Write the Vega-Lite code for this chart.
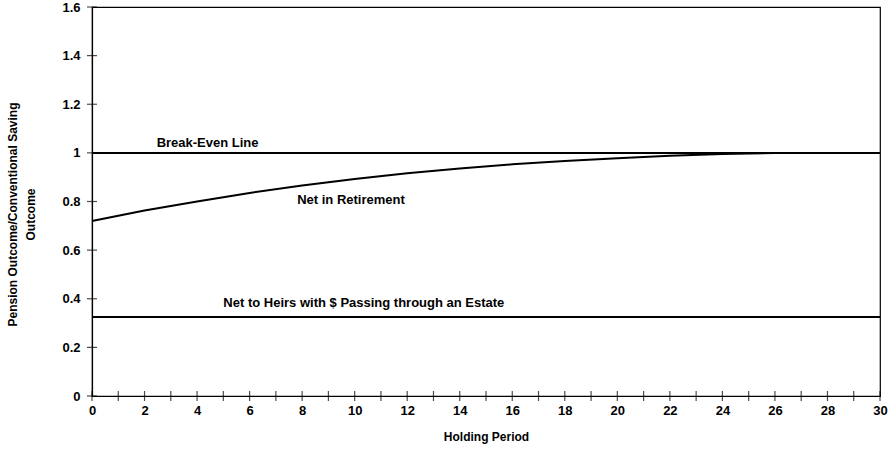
{
  "$schema": "https://vega.github.io/schema/vega-lite/v6.json",
  "width": 788,
  "height": 389,
  "autosize": "none",
  "padding": {"left": 92, "top": 7, "right": 12, "bottom": 53},
  "background": "white",
  "config": {
    "font": "Liberation Sans",
    "view": {"stroke": "black", "strokeWidth": 1.2},
    "axis": {"grid": false, "domainColor": "black", "domainWidth": 1.2, "labelColor": "black", "titleColor": "black", "labelFont": "Liberation Sans", "titleFont": "Liberation Sans", "labelFontWeight": "bold", "titleFontWeight": "bold", "labelFontSize": 13, "titleFontSize": 12}
  },
  "datasets": {
    "series": [
      {"period": 0, "value": 0.72, "series": "Net in Retirement"},
      {"period": 2, "value": 0.763, "series": "Net in Retirement"},
      {"period": 4, "value": 0.8, "series": "Net in Retirement"},
      {"period": 6, "value": 0.835, "series": "Net in Retirement"},
      {"period": 8, "value": 0.866, "series": "Net in Retirement"},
      {"period": 10, "value": 0.893, "series": "Net in Retirement"},
      {"period": 12, "value": 0.916, "series": "Net in Retirement"},
      {"period": 14, "value": 0.936, "series": "Net in Retirement"},
      {"period": 16, "value": 0.953, "series": "Net in Retirement"},
      {"period": 18, "value": 0.967, "series": "Net in Retirement"},
      {"period": 20, "value": 0.978, "series": "Net in Retirement"},
      {"period": 22, "value": 0.988, "series": "Net in Retirement"},
      {"period": 24, "value": 0.995, "series": "Net in Retirement"},
      {"period": 26, "value": 0.999, "series": "Net in Retirement"},
      {"period": 28, "value": 1.0, "series": "Net in Retirement"},
      {"period": 30, "value": 1.0, "series": "Net in Retirement"},
      {"period": 0, "value": 1.0, "series": "Break-Even Line"},
      {"period": 30, "value": 1.0, "series": "Break-Even Line"},
      {"period": 0, "value": 0.325, "series": "Net to Heirs"},
      {"period": 30, "value": 0.325, "series": "Net to Heirs"}
    ],
    "labels": [
      {"period": 4.4, "value": 1.04, "text": "Break-Even Line"},
      {"period": 9.86, "value": 0.807, "text": "Net in Retirement"},
      {"period": 10.35, "value": 0.383, "text": "Net to Heirs with $ Passing through an Estate"}
    ],
    "xticks": [
      {"t": 0}, {"t": 1}, {"t": 2}, {"t": 3}, {"t": 4}, {"t": 5}, {"t": 6}, {"t": 7}, {"t": 8}, {"t": 9},
      {"t": 10}, {"t": 11}, {"t": 12}, {"t": 13}, {"t": 14}, {"t": 15}, {"t": 16}, {"t": 17}, {"t": 18}, {"t": 19},
      {"t": 20}, {"t": 21}, {"t": 22}, {"t": 23}, {"t": 24}, {"t": 25}, {"t": 26}, {"t": 27}, {"t": 28}, {"t": 29}, {"t": 30}
    ],
    "yticks": [
      {"t": 0}, {"t": 0.2}, {"t": 0.4}, {"t": 0.6}, {"t": 0.8}, {"t": 1.0}, {"t": 1.2}, {"t": 1.4}, {"t": 1.6}
    ]
  },
  "layer": [
    {
      "data": {"name": "series"},
      "mark": {"type": "line", "color": "black", "strokeWidth": 2},
      "encoding": {
        "x": {"field": "period", "type": "quantitative", "scale": {"domain": [0, 30], "nice": false},
          "axis": {"title": "Holding Period", "values": [0, 2, 4, 6, 8, 10, 12, 14, 16, 18, 20, 22, 24, 26, 28, 30], "ticks": false, "labelPadding": 8, "titlePadding": 14, "labelFlush": false}},
        "y": {"field": "value", "type": "quantitative", "scale": {"domain": [0, 1.6], "nice": false},
          "axis": {"title": ["Pension Outcome/Conventional Saving", "Outcome"], "values": [0, 0.2, 0.4, 0.6, 0.8, 1, 1.2, 1.4, 1.6], "format": "~g", "ticks": false, "labelPadding": 12, "titlePadding": 24, "titleLineHeight": 18, "titleY": 207}},
        "detail": {"field": "series"}
      }
    },
    {
      "data": {"name": "xticks"},
      "mark": {"type": "tick", "color": "black", "orient": "vertical", "size": 10, "thickness": 1.2},
      "encoding": {
        "x": {"field": "t", "type": "quantitative"},
        "y": {"datum": 0}
      }
    },
    {
      "data": {"name": "yticks"},
      "mark": {"type": "tick", "color": "black", "orient": "horizontal", "size": 10, "thickness": 1.2},
      "encoding": {
        "y": {"field": "t", "type": "quantitative"},
        "x": {"datum": 0}
      }
    },
    {
      "data": {"name": "labels"},
      "mark": {"type": "text", "color": "black", "font": "Liberation Sans", "fontWeight": "bold", "fontSize": 13, "align": "center", "baseline": "middle"},
      "encoding": {
        "x": {"field": "period", "type": "quantitative"},
        "y": {"field": "value", "type": "quantitative"},
        "text": {"field": "text"}
      }
    }
  ]
}
